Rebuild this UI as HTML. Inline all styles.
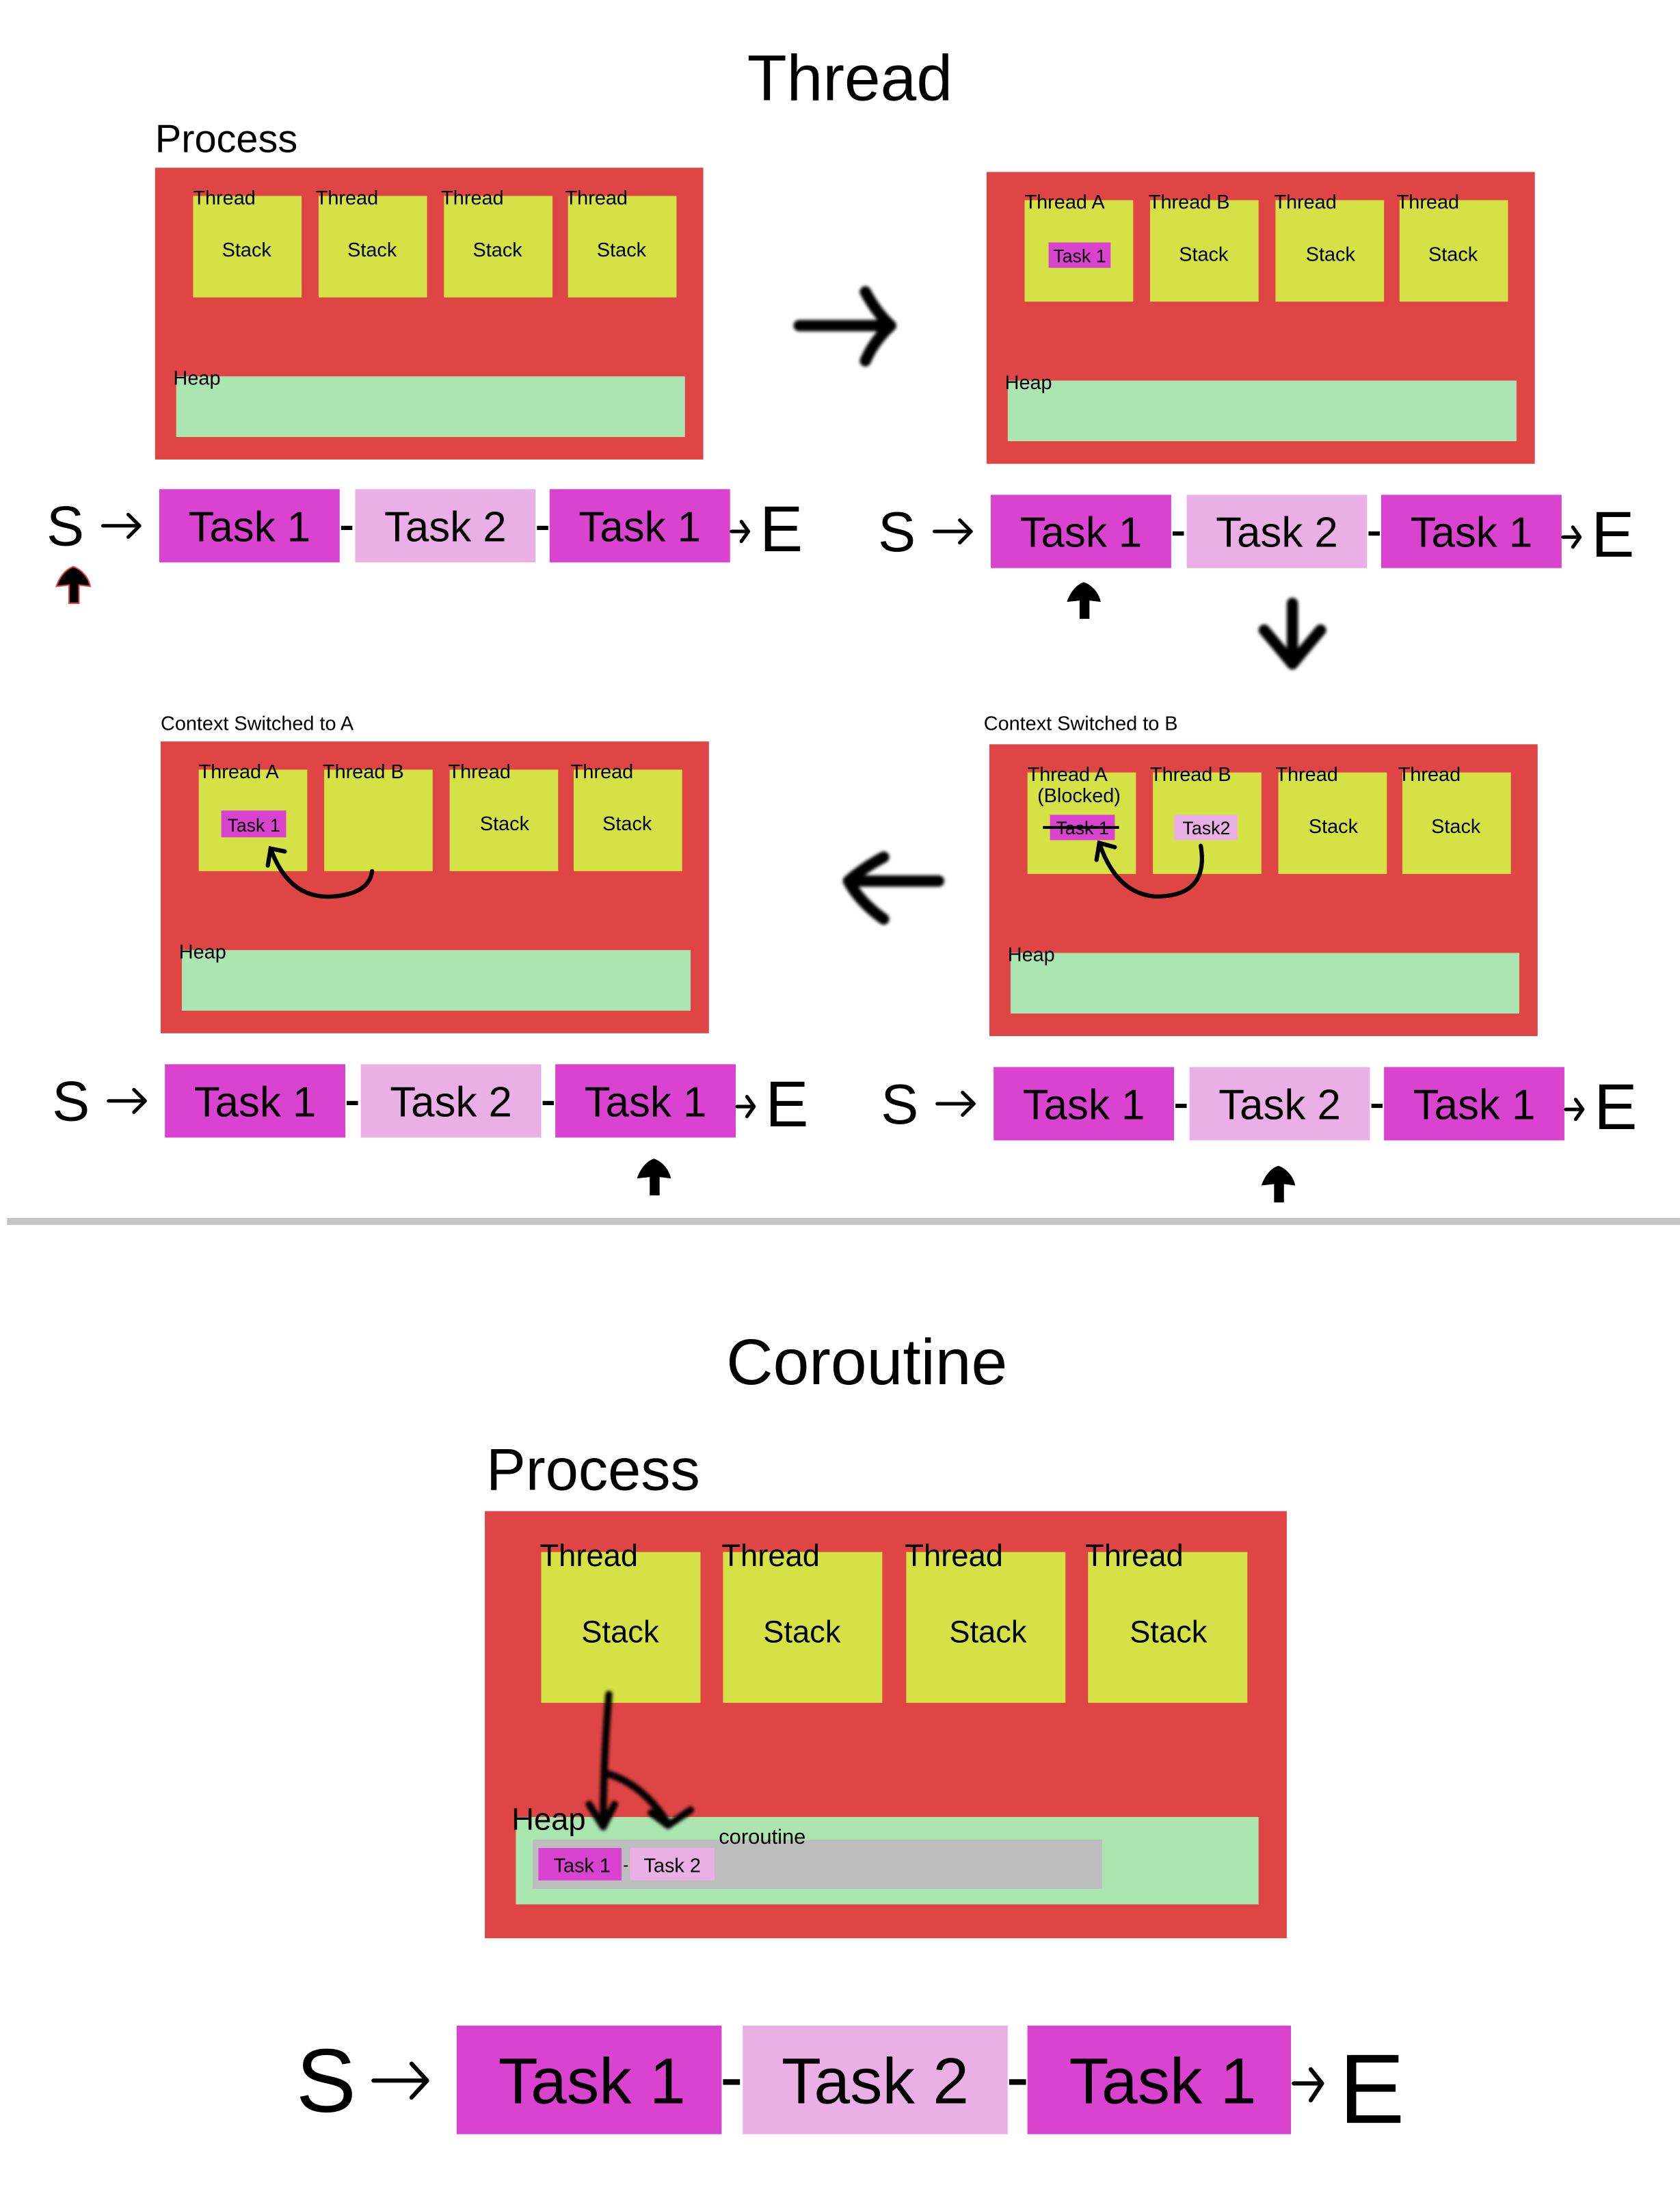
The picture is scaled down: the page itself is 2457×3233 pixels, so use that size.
<!DOCTYPE html>
<html><head><meta charset="utf-8"><style>
html,body{margin:0;padding:0;background:#fff;width:2457px;height:3233px;overflow:hidden}
svg{display:block}
text{font-family:"Liberation Sans",sans-serif;fill:#000}
</style></head><body>
<svg width="2457" height="3233" viewBox="0 0 1192 1568.5" xmlns="http://www.w3.org/2000/svg">
<defs>
<filter id="bl" x="-20%" y="-20%" width="140%" height="140%"><feGaussianBlur stdDeviation="1.2"/></filter>
<g id="panel">
<rect x="0" y="0" width="389" height="207" fill="#e04545"/>
<rect x="27" y="20" width="77" height="72" fill="#d4e246"/>
<rect x="116" y="20" width="77" height="72" fill="#d4e246"/>
<rect x="205" y="20" width="77" height="72" fill="#d4e246"/>
<rect x="293" y="20" width="77" height="72" fill="#d4e246"/>
<rect x="15" y="148" width="361" height="43" fill="#abe5b0"/>
<text x="13" y="154" font-size="14">Heap</text>
</g>
<g id="row">
<text x="-80" y="40" font-size="40" font-weight="300" fill="#111">S</text>
<path d="M-40,26 L-14,26 M-22,18 L-14,26 L-22,34" stroke="#000" stroke-width="2.5" fill="none" stroke-linecap="round" stroke-linejoin="round"/>
<rect x="0" y="0" width="128" height="52" fill="#d943d0"/>
<rect x="139" y="0" width="128" height="52" fill="#eab0e6"/>
<rect x="277" y="0" width="128" height="52" fill="#d943d0"/>
<text x="64" y="37" font-size="30" text-anchor="middle">Task 1</text>
<text x="203" y="37" font-size="30" text-anchor="middle">Task 2</text>
<text x="341" y="37" font-size="30" text-anchor="middle">Task 1</text>
<rect x="129" y="26" width="8" height="3" fill="#000"/>
<rect x="268" y="26" width="8" height="3" fill="#000"/>
<path d="M406,30 L418,30 M413,23 L418,30 L413,37" stroke="#000" stroke-width="2.5" fill="none" stroke-linecap="round" stroke-linejoin="round"/>
<text x="426" y="44" font-size="46">E</text>
</g>
<path id="up" d="M0,-12 C6,-10 11,-4 12,2 L4,1 L4,14 L-3,14 L-3,1 L-12,2 C-10,-4 -6,-10 0,-12 Z" fill="#000"/>
</defs>

<text x="603" y="71" font-size="46" text-anchor="middle">Thread</text>
<text x="110" y="108" font-size="28">Process</text>

<use href="#panel" x="110" y="119"/>
<g font-size="14">
<text x="137" y="145">Thread</text><text x="224" y="145">Thread</text><text x="313" y="145">Thread</text><text x="401" y="145">Thread</text>
<text x="175" y="182" text-anchor="middle">Stack</text><text x="264" y="182" text-anchor="middle">Stack</text><text x="353" y="182" text-anchor="middle">Stack</text><text x="441" y="182" text-anchor="middle">Stack</text>
</g>
<use href="#row" x="113" y="347"/>
<use href="#up" x="52" y="414" stroke="#e04545" stroke-width="1"/>

<use href="#panel" x="700" y="122"/>
<g font-size="14">
<text x="727" y="148">Thread A</text><text x="815" y="148">Thread B</text><text x="904" y="148">Thread</text><text x="991" y="148">Thread</text>
<text x="854" y="185" text-anchor="middle">Stack</text><text x="944" y="185" text-anchor="middle">Stack</text><text x="1031" y="185" text-anchor="middle">Stack</text>
</g>
<rect x="744" y="172" width="44" height="18" fill="#d943d0"/>
<text x="766" y="186" font-size="13" text-anchor="middle">Task 1</text>
<use href="#row" x="703" y="351"/>
<use href="#up" x="769" y="425"/>

<g stroke="#000" stroke-width="8" stroke-linecap="round" stroke-linejoin="round" fill="none" filter="url(#bl)">
<path d="M567,231 L632,231 M614,207 Q622,222 632,231 Q620,242 614,256"/>
<path d="M917,428 L917,471 M897,447 Q908,460 917,471 Q926,460 937,447"/>
<path d="M666,625 L602,625 M627,608 Q612,616 602,625 Q610,640 627,652"/>
</g>

<text x="114" y="518" font-size="14">Context Switched to A</text>
<use href="#panel" x="114" y="526"/>
<g font-size="14">
<text x="141" y="552">Thread A</text><text x="229" y="552">Thread B</text><text x="318" y="552">Thread</text><text x="405" y="552">Thread</text>
<text x="358" y="589" text-anchor="middle">Stack</text><text x="445" y="589" text-anchor="middle">Stack</text>
</g>
<rect x="157" y="575" width="46" height="19" fill="#d943d0"/>
<text x="180" y="590" font-size="13" text-anchor="middle">Task 1</text>
<g stroke="#000" stroke-width="3" fill="none" stroke-linecap="round">
<path d="M264,618 Q262,634 236,636 Q205,638 192,602"/>
<path d="M190,614 L192,602 L202,604"/>
</g>
<use href="#row" x="117" y="755"/>
<use href="#up" x="464" y="834"/>

<text x="698" y="518" font-size="14">Context Switched to B</text>
<use href="#panel" x="702" y="528"/>
<g font-size="14">
<text x="729" y="554">Thread A</text><text x="736" y="569">(Blocked)</text><text x="816" y="554">Thread B</text><text x="905" y="554">Thread</text><text x="992" y="554">Thread</text>
<text x="946" y="591" text-anchor="middle">Stack</text><text x="1033" y="591" text-anchor="middle">Stack</text>
</g>
<rect x="745" y="578" width="46" height="18" fill="#d943d0"/>
<text x="768" y="592" font-size="13" text-anchor="middle">Task 1</text>
<rect x="740" y="586" width="54" height="2" fill="#000"/>
<rect x="833" y="578" width="45" height="18" fill="#eab0e6"/>
<text x="856" y="592" font-size="13" text-anchor="middle">Task2</text>
<g stroke="#000" stroke-width="3" fill="none" stroke-linecap="round">
<path d="M852,600 Q858,636 820,636 Q792,634 780,598"/>
<path d="M778,610 L780,598 L791,601"/>
</g>
<use href="#row" x="705" y="757"/>
<use href="#up" x="907" y="839"/>

<rect x="5" y="864" width="1187" height="5" fill="#c4c4c4"/>

<text x="615" y="982" font-size="46" text-anchor="middle">Coroutine</text>
<text x="345" y="1057" font-size="42">Process</text>
<rect x="344" y="1072" width="569" height="303" fill="#e04545"/>
<rect x="384" y="1101" width="113" height="107" fill="#d4e246"/>
<rect x="513" y="1101" width="113" height="107" fill="#d4e246"/>
<rect x="643" y="1101" width="113" height="107" fill="#d4e246"/>
<rect x="772" y="1101" width="113" height="107" fill="#d4e246"/>
<g font-size="22">
<text x="383" y="1111">Thread</text><text x="512" y="1111">Thread</text><text x="642" y="1111">Thread</text><text x="770" y="1111">Thread</text>
<text x="440" y="1165" text-anchor="middle">Stack</text><text x="569" y="1165" text-anchor="middle">Stack</text><text x="701" y="1165" text-anchor="middle">Stack</text><text x="829" y="1165" text-anchor="middle">Stack</text>
</g>
<rect x="366" y="1289" width="527" height="62" fill="#abe5b0"/>
<text x="363" y="1298" font-size="22">Heap</text>
<rect x="378" y="1305" width="404" height="35" fill="#bdbdbd"/>
<rect x="382" y="1311" width="59" height="23" fill="#d943d0"/>
<rect x="447" y="1311" width="60" height="23" fill="#eab0e6"/>
<text x="413" y="1328" font-size="14" text-anchor="middle">Task 1</text>
<text x="477" y="1328" font-size="14" text-anchor="middle">Task 2</text>
<text x="442" y="1327" font-size="12">-</text>
<text x="510" y="1308" font-size="15">coroutine</text>
<g stroke="#000" stroke-width="5" fill="none" stroke-linecap="round" stroke-linejoin="round" filter="url(#bl)">
<path d="M432,1202 Q428,1250 428,1295"/>
<path d="M418,1280 L428,1296 L436,1280"/>
<path d="M430,1258 Q455,1265 473,1292"/>
<path d="M462,1286 L474,1295 L490,1284"/>
</g>

<text x="210" y="1498" font-size="64" font-weight="300">S</text>
<path d="M265,1476 L303,1476 M292,1464 L303,1476 L292,1488" stroke="#000" stroke-width="3" fill="none" stroke-linecap="round" stroke-linejoin="round"/>
<rect x="324" y="1437" width="188" height="77" fill="#d943d0"/>
<rect x="527" y="1437" width="188" height="77" fill="#eab0e6"/>
<rect x="729" y="1437" width="187" height="77" fill="#d943d0"/>
<text x="420" y="1492" font-size="46" text-anchor="middle">Task 1</text>
<text x="621" y="1492" font-size="46" text-anchor="middle">Task 2</text>
<text x="825" y="1492" font-size="46" text-anchor="middle">Task 1</text>
<rect x="513" y="1475" width="12" height="4" fill="#000"/>
<rect x="716" y="1475" width="12" height="4" fill="#000"/>
<path d="M918,1478 L938,1478 M930,1468 L938,1478 L930,1490" stroke="#000" stroke-width="3" fill="none" stroke-linecap="round" stroke-linejoin="round"/>
<text x="950" y="1506" font-size="70">E</text>
</svg>
</body></html>
